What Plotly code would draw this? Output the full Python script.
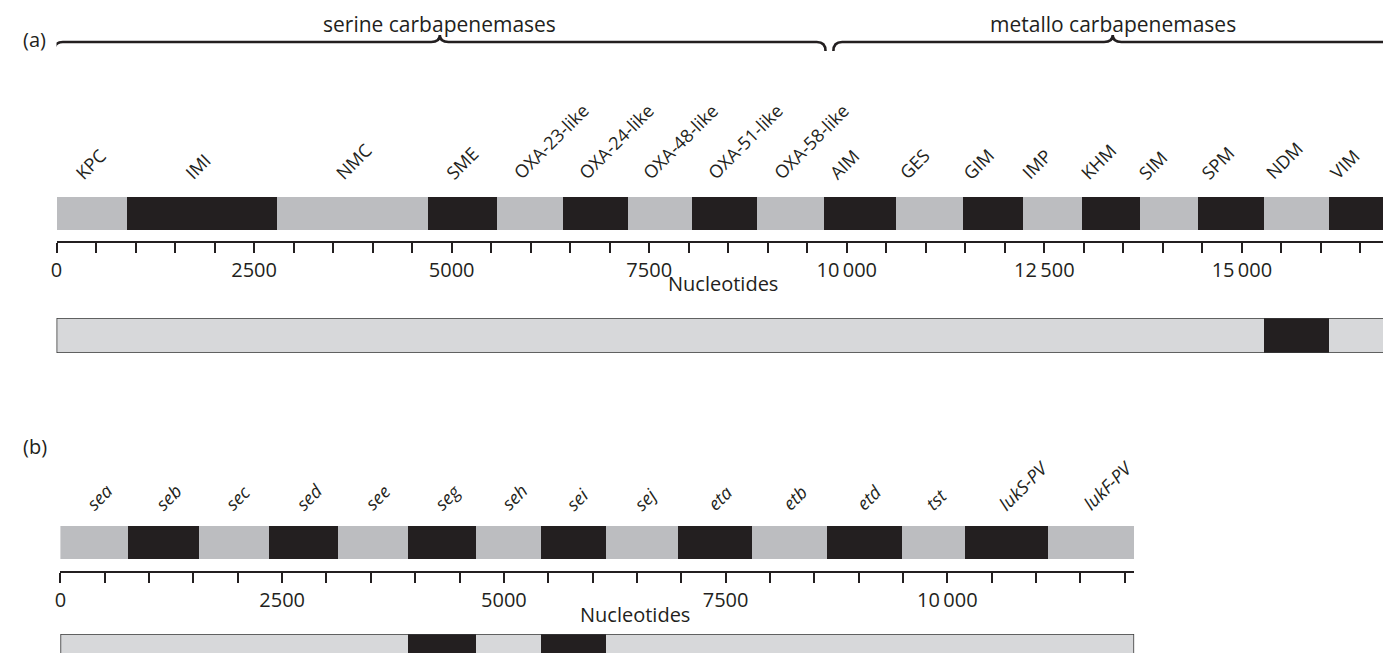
import plotly.graph_objects as go

# ---------------- data ----------------
genes_a = ["KPC", "IMI", "NMC", "SME", "OXA-23-like", "OXA-24-like", "OXA-48-like",
           "OXA-51-like", "OXA-58-like", "AIM", "GES", "GIM", "IMP", "KHM", "SIM",
           "SPM", "NDM", "VIM"]
bounds_a = [0, 886, 2788, 4691, 5573, 6404, 7223, 8030, 8861, 9706, 10613, 11470,
            12226, 12969, 13700, 14443, 15275, 16094, 16900]
groups_a = ["serine carbapenemases", "metallo carbapenemases"]
group_sizes_a = [9, 9]
highlight_a = ["NDM"]

genes_b = ["sea", "seb", "sec", "sed", "see", "seg", "seh", "sei", "sej", "eta",
           "etb", "etd", "tst", "lukS-PV", "lukF-PV"]
bounds_b = [0, 769, 1562, 2351, 3132, 3925, 4694, 5428, 6158, 6963, 7806, 8649,
            9493, 10199, 11142, 12106]
highlight_b = ["seg", "sei"]

tick_step = 500
label_step = 2500
tick_labels_a = ["0", "2500", "5000", "7500", "10\u2009000", "12\u2009500", "15\u2009000"]
tick_labels_b = ["0", "2500", "5000", "7500", "10\u2009000"]
axis_title = "Nucleotides"

# ---------------- styling ----------------
W, H = 1391, 653
GREY = "#bcbdc0"
BLACK = "#231f20"
LIGHT = "#d7d8da"
BORDER = "#3a3a3a"
FONT = "Open Sans"
TXT = 20


def py(p):
    return 1 - p / H


def px(p):
    return p / W


fig = go.Figure()


def gene_bar(genes, bounds, xa, ya):
    starts = bounds[:-1]
    lengths = [bounds[i + 1] - bounds[i] for i in range(len(genes))]
    colors = [GREY if i % 2 == 0 else BLACK for i in range(len(genes))]
    fig.add_trace(go.Bar(orientation="h", y=[0.5] * len(genes), x=lengths, base=starts,
                         width=1, marker=dict(color=colors, line=dict(width=0)),
                         xaxis=xa, yaxis=ya, hoverinfo="skip", showlegend=False))


def bottom_bar(genes, bounds, highlight, xa, ya):
    total = bounds[-1] - bounds[0]
    fig.add_trace(go.Bar(orientation="h", y=[0.5], x=[total], base=[bounds[0]],
                         width=1, marker=dict(color=LIGHT, line=dict(width=0)),
                         xaxis=xa, yaxis=ya, hoverinfo="skip", showlegend=False))
    idx = [genes.index(g) for g in highlight]
    fig.add_trace(go.Bar(orientation="h", y=[0.5] * len(idx),
                         x=[bounds[i + 1] - bounds[i] for i in idx],
                         base=[bounds[i] for i in idx], width=1,
                         marker=dict(color=BLACK, line=dict(width=0)),
                         xaxis=xa, yaxis=ya, hoverinfo="skip", showlegend=False))
    # outline of the sequence bar
    fig.add_trace(go.Scatter(x=[bounds[0], bounds[-1], bounds[-1], bounds[0], bounds[0]],
                             y=[0, 0, 1, 1, 0], mode="lines", cliponaxis=False,
                             line=dict(color=BORDER, width=1.6),
                             xaxis=xa, yaxis=ya, hoverinfo="skip", showlegend=False))


gene_bar(genes_a, bounds_a, "x", "y")
bottom_bar(genes_a, bounds_a, highlight_a, "x", "y3")
gene_bar(genes_b, bounds_b, "x2", "y2")
bottom_bar(genes_b, bounds_b, highlight_b, "x2", "y4")


def xaxis_cfg(domain, rng, pos, labels):
    vals = list(range(0, int(rng[1]) + 1, tick_step))
    txt = []
    for v in vals:
        if v % label_step == 0 and v // label_step < len(labels):
            txt.append(labels[v // label_step])
        else:
            txt.append("")
    return dict(domain=domain, range=rng, anchor="free", position=pos,
                showline=True, linecolor=BLACK, linewidth=1.6,
                ticks="outside", ticklen=10, tickwidth=1.6, tickcolor=BLACK,
                tickvals=vals, ticktext=txt, showgrid=False, zeroline=False,
                tickfont=dict(family=FONT, size=TXT, color=BLACK), fixedrange=True)


def yaxis_cfg(domain, rng, anchor):
    return dict(domain=domain, range=rng, visible=False, anchor=anchor,
                showgrid=False, zeroline=False, fixedrange=True)


annotations = []
shapes = []

g_edges = [0]
for s in group_sizes_a:
    g_edges.append(g_edges[-1] + s)
group_shift_a = [-24, -38]

# gene labels, panel (a)
for i, g in enumerate(genes_a):
    grp = 0 if i < g_edges[1] else 1
    annotations.append(dict(
        x=(bounds_a[i] + bounds_a[i + 1]) / 2, xref="x", y=py(179), yref="paper",
        text=g, showarrow=False, textangle=-45,
        xanchor="left", yanchor="bottom", xshift=group_shift_a[grp],
        font=dict(family=FONT, size=18, color=BLACK)))

# gene labels, panel (b)
for i, g in enumerate(genes_b):
    annotations.append(dict(
        x=(bounds_b[i] + bounds_b[i + 1]) / 2, xref="x2", y=py(510), yref="paper",
        text=f"<i>{g}</i>", showarrow=False, textangle=-45,
        xanchor="left", yanchor="bottom", xshift=-16,
        font=dict(family=FONT, size=18, color=BLACK)))


# braces over gene groups
def brace(x0, x1, yl, yt, ye, r):
    xm = (x0 + x1) / 2
    return (f"M {x0},{ye} Q {x0},{yl} {x0 + r},{yl} L {xm - r},{yl} "
            f"Q {xm},{yl} {xm},{yt} Q {xm},{yl} {xm + r},{yl} L {x1 - r},{yl} "
            f"Q {x1},{yl} {x1},{ye}")


brace_ranges = [(bounds_a[g_edges[0]] - 30, bounds_a[g_edges[1]] + 25),
                (bounds_a[g_edges[1]] + 125, bounds_a[g_edges[2]])]
for (x0, x1), name in zip(brace_ranges, groups_a):
    shapes.append(dict(type="path", xref="x", yref="paper",
                       path=brace(x0, x1, py(34), py(27), py(43), 110),
                       line=dict(color=BLACK, width=2.6)))
    annotations.append(dict(x=(x0 + x1) / 2, xref="x", y=1, yref="paper",
                            text=name, showarrow=False, xanchor="center", yanchor="top",
                            font=dict(family=FONT, size=21, color=BLACK)))

# panel letters and axis titles
annotations += [
    dict(x=px(21), y=py(31), xref="paper", yref="paper", text="(a)", showarrow=False,
         xanchor="center", yanchor="middle", font=dict(family=FONT, size=TXT, color=BLACK)),
    dict(x=px(21), y=py(438), xref="paper", yref="paper", text="(b)", showarrow=False,
         xanchor="center", yanchor="middle", font=dict(family=FONT, size=TXT, color=BLACK)),
    dict(x=px(712), y=py(275), xref="paper", yref="paper", text=axis_title, showarrow=False,
         xanchor="center", yanchor="middle", font=dict(family=FONT, size=TXT, color=BLACK)),
    dict(x=px(624), y=py(606), xref="paper", yref="paper", text=axis_title, showarrow=False,
         xanchor="center", yanchor="middle", font=dict(family=FONT, size=TXT, color=BLACK)),
]

fig.update_layout(
    width=W, height=H, margin=dict(l=0, r=0, t=0, b=0),
    paper_bgcolor="white", plot_bgcolor="rgba(0,0,0,0)",
    barmode="overlay", bargap=0, showlegend=False,
    xaxis=xaxis_cfg([px(42.7), px(1384)], [0, bounds_a[-1]], py(234), tick_labels_a),
    xaxis2=xaxis_cfg([px(46.6), px(1125)], [0, bounds_b[-1]], py(564), tick_labels_b),
    yaxis=yaxis_cfg([py(222), py(189)], [0, 1], "x"),
    yaxis3=yaxis_cfg([py(345), py(310)], [0, 1], "x"),
    yaxis2=yaxis_cfg([py(551), py(518)], [0, 1], "x2"),
    yaxis4=yaxis_cfg([0, py(626)], [(661 - 653) / 35, 1], "x2"),
    annotations=annotations, shapes=shapes,
    font=dict(family=FONT, color=BLACK),
)

fig.write_html("out.html", config={"displayModeBar": False})
